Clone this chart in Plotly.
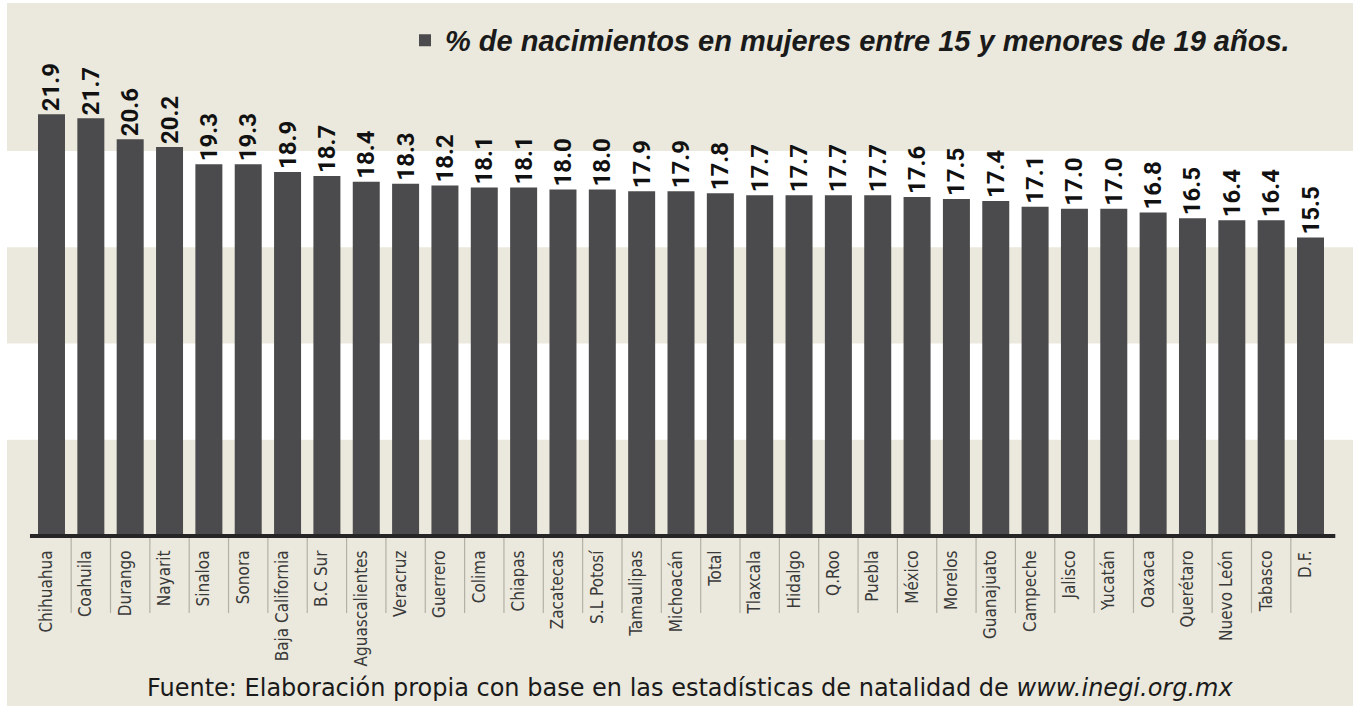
import plotly.graph_objects as go

# ---- data ----
estados = ["Chihuahua", "Coahuila", "Durango", "Nayarit", "Sinaloa", "Sonora",
           "Baja California", "B.C Sur", "Aguascalientes", "Veracruz", "Guerrero",
           "Colima", "Chiapas", "Zacatecas", "S.L Potosí", "Tamaulipas", "Michoacán",
           "Total", "Tlaxcala", "Hidalgo", "Q.Roo", "Puebla", "México", "Morelos",
           "Guanajuato", "Campeche", "Jalisco", "Yucatán", "Oaxaca", "Querétaro",
           "Nuevo León", "Tabasco", "D.F."]
porcentaje = [21.9, 21.7, 20.6, 20.2, 19.3, 19.3, 18.9, 18.7, 18.4, 18.3, 18.2,
              18.1, 18.1, 18.0, 18.0, 17.9, 17.9, 17.8, 17.7, 17.7, 17.7, 17.7,
              17.6, 17.5, 17.4, 17.1, 17.0, 17.0, 16.8, 16.5, 16.4, 16.4, 15.5]
serie_nombre = "% de nacimientos en mujeres entre 15 y menores de 19 años."
fuente = "Fuente: Elaboración propia con base en las estadísticas de natalidad de <i>www.inegi.org.mx</i>"
bandas_blancas = [(5, 10), (15, 20)]

BEIGE = "#ebe9dd"
BAR = "#4b4a4c"
NARROW = "Liberation Sans Narrow, DejaVu Sans Condensed, Roboto, sans-serif"

n = len(estados)
x_range = [-1.131, 33.08]
y_range = [-4.62, 27.68]
y0_pos = 4.62 / (y_range[1] - y_range[0])

fig = go.Figure()
fig.add_trace(go.Bar(
    x=estados, y=porcentaje, name=serie_nombre,
    marker=dict(color=BAR, line=dict(width=0)),
    text=[f"{v:.1f}" for v in porcentaje],
    textposition="outside", textangle=-90, constraintext="none",
    textfont=dict(family="Roboto, Liberation Sans, sans-serif", size=24,
                  color="#111111", weight="bold"),
    cliponaxis=False, showlegend=True,
))

shapes = []
for a, b in bandas_blancas:
    shapes.append(dict(type="rect", xref="paper", yref="y", x0=0, x1=1, y0=a, y1=b,
                       fillcolor="#ffffff", line=dict(width=0), layer="below"))
# separators between category labels
for i in range(n - 1):
    shapes.append(dict(type="line", xref="x", yref="y", x0=i + 0.5, x1=i + 0.5,
                       y0=0, y1=-4.0, line=dict(color="#b3b1a6", width=1.2)))
# axis baseline
shapes.append(dict(type="line", xref="x", yref="y", x0=-0.547, x1=n - 1 + 0.63,
                   y0=0, y1=0, line=dict(color="#262626", width=4)))

fig.update_layout(
    width=1346, height=703,
    margin=dict(l=0, r=0, t=0, b=81),
    paper_bgcolor=BEIGE, plot_bgcolor=BEIGE,
    bargap=0.314,
    shapes=shapes,
    showlegend=True,
    legend=dict(x=0.2957, xanchor="left", y=0.94, yanchor="middle",
                bgcolor="rgba(0,0,0,0)",
                font=dict(family="Liberation Sans, Arial, sans-serif", size=29,
                          color="#1a1a1a", weight="bold", style="italic")),
    xaxis=dict(range=x_range, showgrid=False, zeroline=False, showline=False,
               ticks="", tickangle=-90, anchor="free", position=y0_pos,
               ticklabelstandoff=10, ticklabelshift=-5,
               tickfont=dict(family=NARROW, size=17, color="#3a3a3a")),
    yaxis=dict(range=y_range, visible=False, showgrid=False, zeroline=False),
    annotations=[dict(text=fuente, xref="paper", yref="paper", x=0.5074, y=-0.1008,
                      xanchor="center", yanchor="middle", showarrow=False,
                      font=dict(family="DejaVu Sans, sans-serif", size=24,
                                color="#1a1a1a"))],
)

fig.write_html("out.html",
               post_script="document.body.style.margin='3px 0 0 7px';"
                           "document.body.style.padding='0';"
                           "document.body.style.background='#ffffff';")
